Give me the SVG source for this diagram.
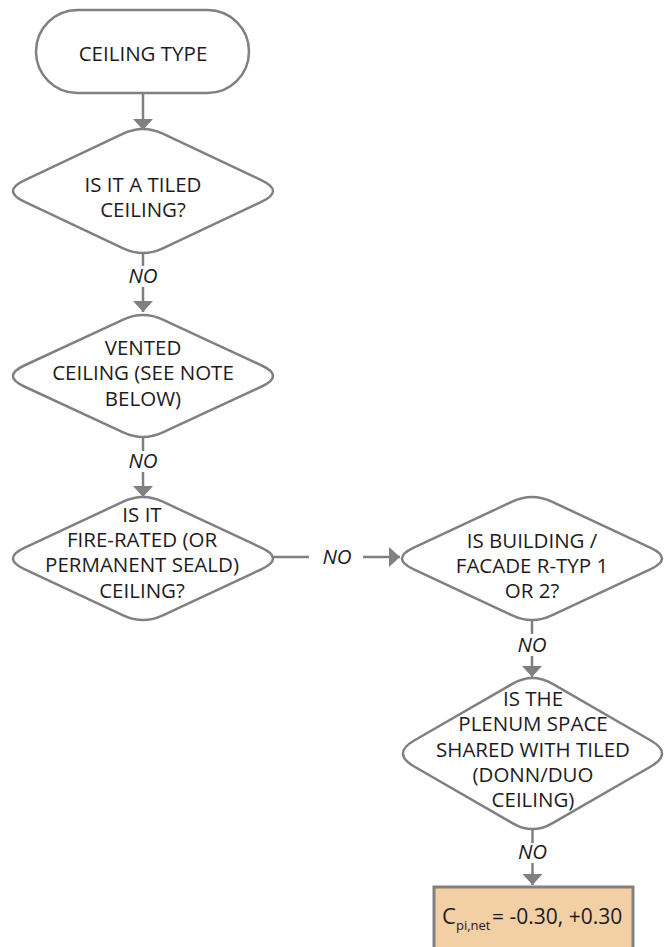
<svg xmlns="http://www.w3.org/2000/svg" width="667" height="947" viewBox="0 0 667 947">
<style>
.shape{fill:#ffffff;stroke:#808080;stroke-width:2.5}
.result{fill:#f3cfa5;stroke:#808080;stroke-width:3}
.t{font-family:"Open Sans","Liberation Sans",Arial,sans-serif;font-size:20.5px;fill:#1e1b1c;text-anchor:middle}
.lbl{font-family:"Open Sans","Liberation Sans",Arial,sans-serif;font-size:20.5px;font-style:italic;fill:#1e1b1c;text-anchor:middle}
.c{stroke:#808080;stroke-width:2.5;fill:none}
.ca{stroke:#808080;stroke-width:2.5;fill:none;marker-end:url(#ah)}
.s{font-family:"Open Sans","Liberation Sans",Arial,sans-serif;fill:#1e1b1c}
</style>
<defs>
<marker id="ah" viewBox="0 0 11 20" refX="11" refY="10" markerWidth="11" markerHeight="20" markerUnits="userSpaceOnUse" orient="auto">
<path d="M0,0 L11,10 L0,20 Z" fill="#808080"/>
</marker>
</defs>
<rect width="667" height="947" fill="#ffffff"/>

<g id="connectors">
<line class="ca" x1="143" y1="93" x2="143" y2="130"/>
<line class="c" x1="143" y1="253" x2="143" y2="266"/>
<text class="lbl" x="143" y="283">NO</text>
<line class="ca" x1="143" y1="287" x2="143" y2="312"/>
<line class="c" x1="143" y1="437" x2="143" y2="451"/>
<text class="lbl" x="143" y="468">NO</text>
<line class="ca" x1="143" y1="472" x2="143" y2="497"/>
<line class="c" x1="272" y1="557" x2="309" y2="557"/>
<text class="lbl" x="337" y="564">NO</text>
<line class="ca" x1="363" y1="557" x2="400" y2="557"/>
<line class="c" x1="532" y1="620" x2="532" y2="634"/>
<text class="lbl" x="532" y="652">NO</text>
<line class="ca" x1="532" y1="656" x2="532" y2="677"/>
<line class="c" x1="532.5" y1="829" x2="532.5" y2="843"/>
<text class="lbl" x="532.5" y="859">NO</text>
<line class="ca" x1="532.5" y1="863" x2="532.5" y2="885"/>
</g>

<g id="n_start">
<rect class="shape" x="36" y="10" width="213" height="83" rx="41.5" ry="41.5"/>
<text class="t" x="143" y="61">CEILING TYPE</text>
</g>

<g id="n_tiled">
<path class="shape" d="M162.8,133.6 L261.7,180.3 Q284.3,191 261.7,201.7 L162.8,248.4 Q143,257.7 123.2,248.4 L24.3,201.7 Q1.7,191 24.3,180.3 L123.2,133.6 Q143,124.3 162.8,133.6 Z"/>
<text class="t" x="143" y="192">IS IT A TILED</text>
<text class="t" x="143" y="217">CEILING?</text>
</g>

<g id="n_vented">
<path class="shape" d="M162.8,319.6 L261.7,365.5 Q284.3,376 261.7,386.5 L162.8,432.4 Q143,441.6 123.2,432.4 L24.3,386.5 Q1.7,376 24.3,365.5 L123.2,319.6 Q143,310.4 162.8,319.6 Z"/>
<text class="t" x="143" y="355">VENTED</text>
<text class="t" x="143" y="380">CEILING (SEE NOTE</text>
<text class="t" x="143" y="406">BELOW)</text>
</g>

<g id="n_fire">
<path class="shape" d="M162.8,501.65 L261.7,547.9 Q284.3,558.5 261.7,569.1 L162.8,615.35 Q143,624.6 123.2,615.35 L24.3,569.1 Q1.7,558.5 24.3,547.9 L123.2,501.65 Q143,492.4 162.8,501.65 Z"/>
<text class="t" x="142" y="522">IS IT</text>
<text class="t" x="142" y="547">FIRE-RATED (OR</text>
<text class="t" x="142" y="572">PERMANENT SEALD)</text>
<text class="t" x="142" y="598">CEILING?</text>
</g>

<g id="n_building">
<path class="shape" d="M551.8,501.65 L650.7,547.9 Q673.3,558.5 650.7,569.1 L551.8,615.35 Q532,624.6 512.2,615.35 L413.3,569.1 Q390.7,558.5 413.3,547.9 L512.2,501.65 Q532,492.4 551.8,501.65 Z"/>
<text class="t" x="532" y="548">IS BUILDING /</text>
<text class="t" x="532" y="573">FACADE R-TYP 1</text>
<text class="t" x="532" y="598">OR 2?</text>
</g>

<g id="n_plenum">
<path class="shape" d="M552.2,683.7 L650.8,740.5 Q673.3,753.5 650.8,766.5 L552.2,823.3 Q532.5,834.7 512.8,823.3 L414.2,766.5 Q391.7,753.5 414.2,740.5 L512.8,683.7 Q532.5,672.3 552.2,683.7 Z"/>
<text class="t" x="533" y="706">IS THE</text>
<text class="t" x="533" y="731">PLENUM SPACE</text>
<text class="t" x="533" y="757">SHARED WITH TILED</text>
<text class="t" x="533" y="782">(DONN/DUO</text>
<text class="t" x="533" y="807">CEILING)</text>
</g>

<g id="n_result">
<rect class="result" x="434" y="887" width="199" height="80"/>
<text class="s" x="442" y="924" font-size="22">C</text>
<text class="s" x="456" y="930" font-size="13">pi,net</text>
<text class="s" x="492" y="924" font-size="21">= -0.30, +0.30</text>
</g>
</svg>
